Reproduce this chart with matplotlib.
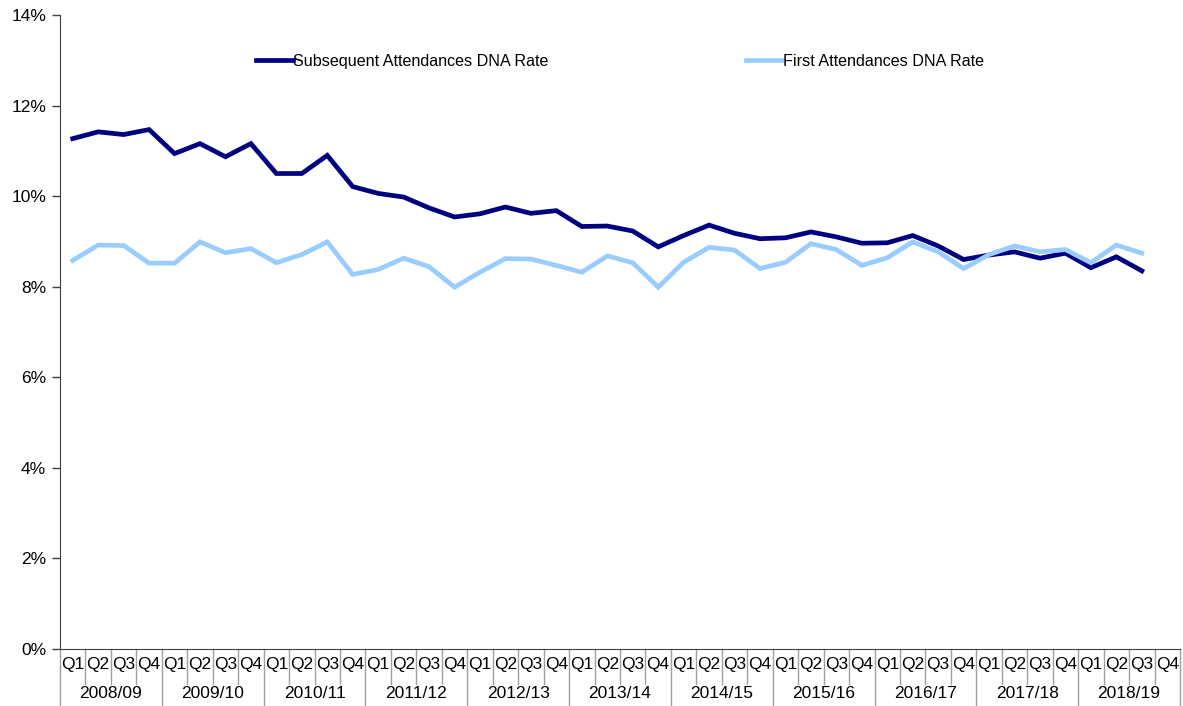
import numpy as np
import matplotlib.pyplot as plt
import matplotlib.transforms as mtransforms

plt.rcParams['font.family'] = ['Liberation Sans', 'DejaVu Sans']

# financial years and quarters on the x axis
years = ["2008/09", "2009/10", "2010/11", "2011/12", "2012/13", "2013/14",
         "2014/15", "2015/16", "2016/17", "2017/18", "2018/19"]
quarters = ["Q1", "Q2", "Q3", "Q4"]

# DNA rates in %, one value per quarter (last quarter of 2018/19 not yet available)
subsequent = [11.27, 11.42, 11.36, 11.47, 10.94, 11.16, 10.87, 11.16,
              10.50, 10.50, 10.90, 10.21, 10.06, 9.98, 9.74, 9.54,
              9.61, 9.76, 9.62, 9.68, 9.33, 9.34, 9.23, 8.88,
              9.13, 9.36, 9.18, 9.06, 9.08, 9.21, 9.10, 8.96,
              8.97, 9.13, 8.90, 8.60, 8.70, 8.77, 8.63, 8.74,
              8.42, 8.66, 8.35]
first = [8.58, 8.92, 8.91, 8.52, 8.52, 8.99, 8.75, 8.84,
         8.53, 8.71, 8.99, 8.27, 8.38, 8.63, 8.44, 7.99,
         8.32, 8.62, 8.61, 8.47, 8.32, 8.68, 8.53, 7.99,
         8.54, 8.87, 8.81, 8.40, 8.54, 8.95, 8.82, 8.47,
         8.64, 8.99, 8.77, 8.40, 8.71, 8.90, 8.77, 8.82,
         8.53, 8.92, 8.74]

n_cat = len(years) * len(quarters)
x = np.arange(len(subsequent))

fig = plt.figure(figsize=(11.83, 7.06), dpi=100)
ax = fig.add_axes([60/1183, 1 - 649/706, 1120/1183, 634/706])

ax.plot(x, subsequent, color="#000080", lw=3.4, label="Subsequent Attendances DNA Rate",
        solid_joinstyle="miter")
ax.plot(x, first, color="#99CCFF", lw=3.4, label="First Attendances DNA Rate",
        solid_joinstyle="miter")

ax.set_xlim(-0.5, n_cat - 0.5)
ax.set_ylim(0, 14)
ax.set_yticks(np.arange(0, 15, 2))
ax.set_yticklabels([f"{v}%" for v in range(0, 15, 2)], fontsize=12.5)
ax.tick_params(axis="y", direction="out", length=6, width=1, color="#404040", pad=4)
ax.set_xticks([])

for s in ["top", "right"]:
    ax.spines[s].set_visible(False)
ax.spines["left"].set_color("#404040")
ax.spines["bottom"].set_color("#404040")

# category labels drawn under the axis (two rows: quarter, year)
trans = mtransforms.blended_transform_factory(ax.transData, ax.transAxes)
h = 634.0
q_y = -(665 - 649) / h
yr_y = -(694 - 649) / h
q_bot = -(684 - 649) / h
yr_bot = -(706 - 649) / h
for i in range(n_cat):
    ax.text(i, q_y, quarters[i % 4], transform=trans, ha="center", va="center", fontsize=12.5)
    if i % 4 != 0:
        ax.plot([i - 0.5, i - 0.5], [0, q_bot], transform=trans, color="#a0a0a0",
                lw=1, clip_on=False)
for k, yr in enumerate(years):
    ax.text(4 * k + 1.5, yr_y, yr, transform=trans, ha="center", va="center", fontsize=12.5)
for k in range(len(years) + 1):
    ax.plot([4 * k - 0.5, 4 * k - 0.5], [0, yr_bot], transform=trans, color="#a0a0a0",
            lw=1, clip_on=False)

ax.legend(loc="upper center", bbox_to_anchor=(0.5, 0.962), ncol=2, frameon=False,
          fontsize=11.6, handlelength=2.3, handletextpad=0.0, columnspacing=12.3)

fig.savefig("out.png", dpi=100)
